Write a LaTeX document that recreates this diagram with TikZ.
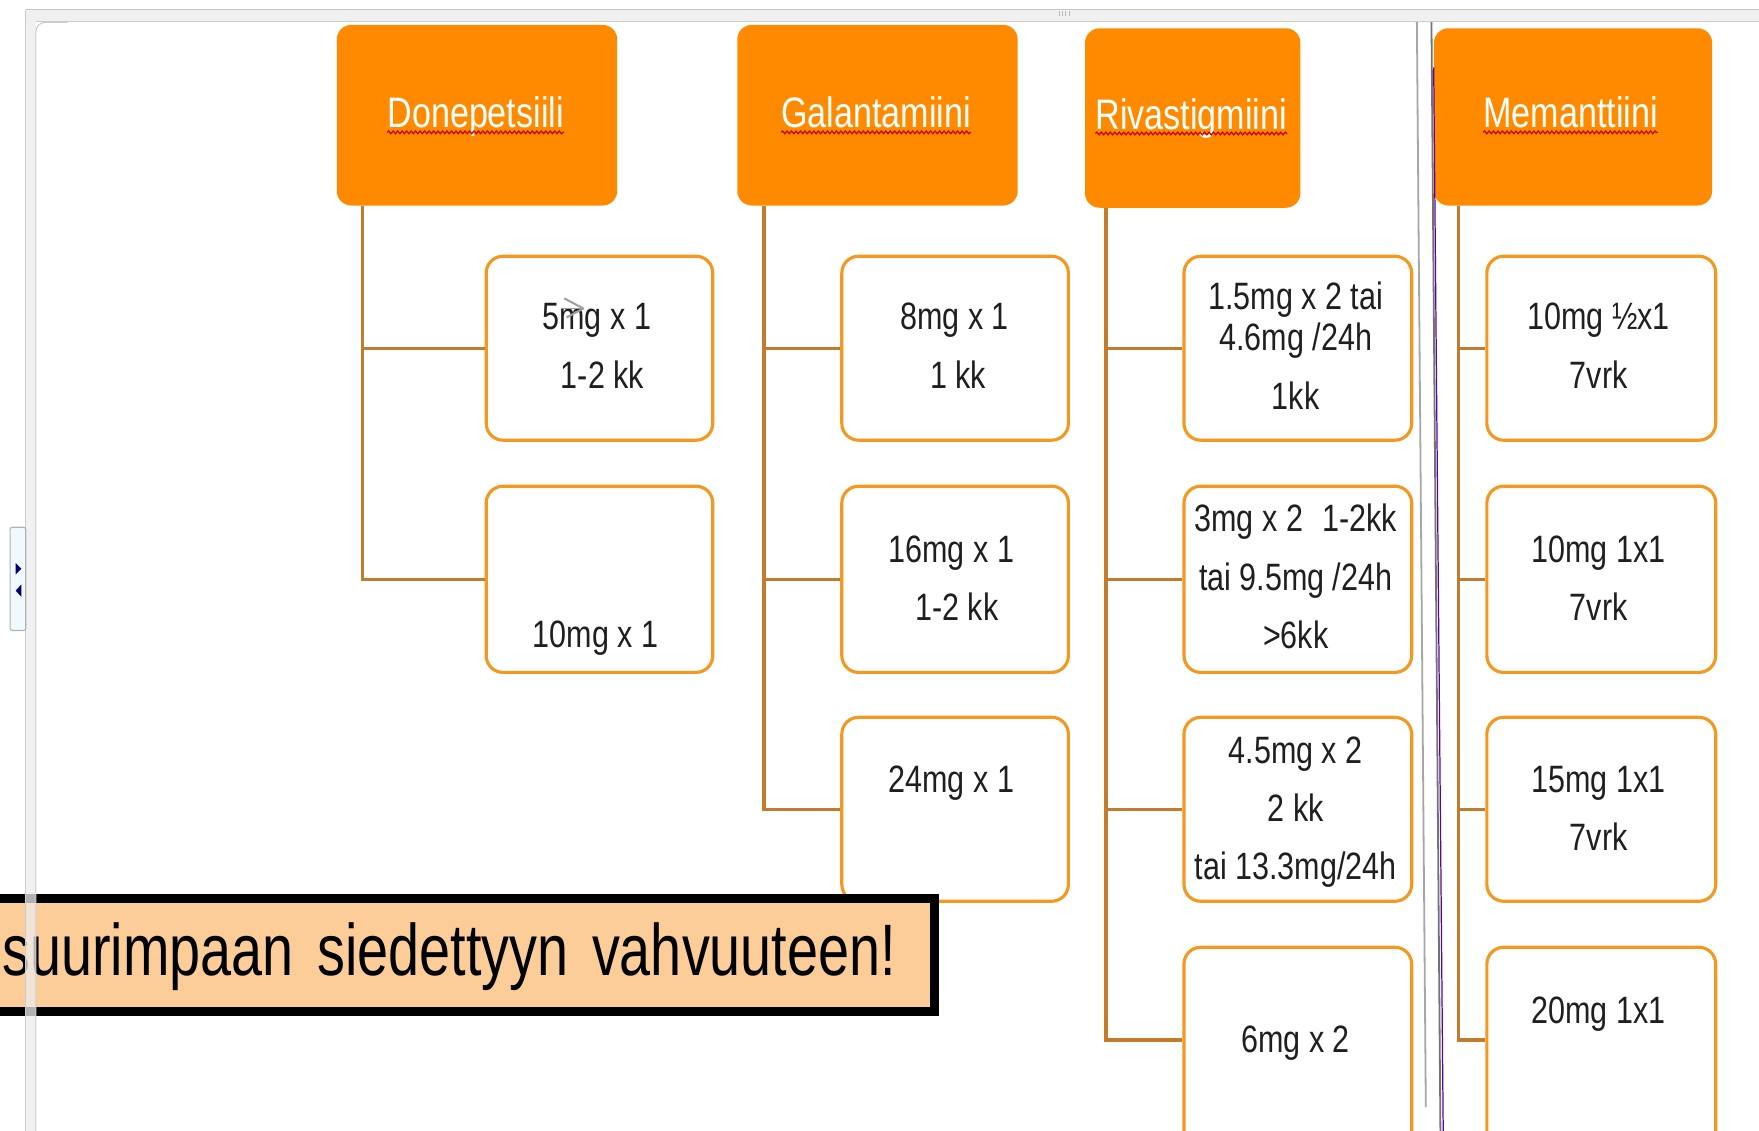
\documentclass[tikz,border=0pt]{standalone}
\usepackage{fontspec}
\setmainfont[FakeStretch=0.8]{Liberation Sans}
\newfontfamily\bannerfont[FakeStretch=0.765]{Liberation Sans}
\usetikzlibrary{decorations.pathmorphing}
\definecolor{hdrc}{RGB}{255,138,0}
\definecolor{bordc}{RGB}{246,152,32}
\definecolor{connc}{RGB}{196,124,44}
\definecolor{peach}{RGB}{252,205,153}
\begin{document}
\begin{tikzpicture}[x=1pt,y=-1pt,
  hdr/.style={rectangle,rounded corners=13pt,fill=hdrc,minimum width=250pt,minimum height=161pt,anchor=north west,inner sep=0pt},
  kid/.style={rectangle,rounded corners=15pt,draw=bordc,line width=2.8pt,fill=white,minimum width=202pt,minimum height=164pt,anchor=north west,inner sep=0pt},
  htxt/.style={text=white,font=\fontsize{38}{44}\selectfont,anchor=base,inner sep=0pt},
  ktxt/.style={text=black!88,font=\fontsize{34}{40}\selectfont,anchor=base,inner sep=0pt},
  conn/.style={draw=connc,line width=3pt},
  spell/.style={draw=red!80!black,line width=1.1pt,decorate,decoration={snake,amplitude=1.2pt,segment length=4pt}},
  banner/.style={rectangle,draw=black,line width=8pt,fill=peach,anchor=north west,minimum width=849pt,minimum height=101pt,inner sep=0pt},
  btxt/.style={text=black,font=\bannerfont\fontsize{65}{70}\selectfont,anchor=base west,inner sep=0pt}]
\useasboundingbox (0,0) rectangle (1568,1008);
\clip (0,0) rectangle (1568,1008);
\fill[white] (0,0) rectangle (1568,1008);

% headers
\node[hdr] (don) at (300,22) {};
\node[hdr] (gal) at (657,22) {};
\node[hdr,minimum width=192pt,minimum height=160pt] (riv) at (967,25) {};
\node[hdr,minimum width=248pt,minimum height=158pt] (mem) at (1278,25) {};
\node[htxt] (donT) at (424,114) {Donepetsiili};
\node[htxt] (galT) at (781,114) {Galantamiini};
\node[htxt] (rivT) at (1062,115) {Rivastigmiini};
\node[htxt] (memT) at (1400,114) {Memanttiini};
\foreach \t in {donT,galT,rivT,memT}
  \draw[spell] ([yshift=-4pt]\t.base west) -- ([yshift=-4pt]\t.base east);

% child boxes
\node[kid] (don1) at (432,227) {};
\node[kid,minimum height=166pt] (don2) at (432,432) {};
\node[kid] (gal1) at (749,227) {};
\node[kid,minimum height=166pt] (gal2) at (749,432) {};
\node[kid] (gal3) at (749,638) {};
\node[kid,minimum width=203pt] (riv1) at (1054,227) {};
\node[kid,minimum width=203pt,minimum height=166pt] (riv2) at (1054,432) {};
\node[kid,minimum width=203pt] (riv3) at (1054,638) {};
\node[kid,minimum width=203pt,minimum height=190pt] (riv4) at (1054,843) {};
\node[kid,minimum width=204pt] (mem1) at (1324,227) {};
\node[kid,minimum width=204pt,minimum height=166pt] (mem2) at (1324,432) {};
\node[kid,minimum width=204pt] (mem3) at (1324,638) {};
\node[kid,minimum width=204pt,minimum height=190pt] (mem4) at (1324,843) {};

% texts
\node[ktxt] at (532,294) {5mg x 1};
\node[ktxt] at (537,346) {1-2 kk};
\node[ktxt] at (531,577) {10mg x 1};
\node[ktxt] at (851,294) {8mg x 1};
\node[ktxt] at (854,346) {1 kk};
\node[ktxt] at (848,501) {16mg x 1};
\node[ktxt] at (853,553) {1-2 kk};
\node[ktxt] at (848,706) {24mg x 1};
\node[ktxt] at (1155,276) {1.5mg x 2 tai};
\node[ktxt] at (1155,312) {4.6mg /24h};
\node[ktxt] at (1155,365) {1kk};
\node[ktxt] at (1155,474) {3mg x 2\hspace{0.28em} 1-2kk};
\node[ktxt] at (1155,526) {tai 9.5mg /24h};
\node[ktxt] at (1155,578) {>6kk};
\node[ktxt] at (1155,681) {4.5mg x 2};
\node[ktxt] at (1155,732) {2 kk};
\node[ktxt] at (1155,784) {tai 13.3mg/24h};
\node[ktxt] at (1155,938) {6mg x 2};
\node[ktxt] at (1425,294) {10mg ½x1};
\node[ktxt] at (1425,346) {7vrk};
\node[ktxt] at (1425,501) {10mg 1x1};
\node[ktxt] at (1425,553) {7vrk};
\node[ktxt] at (1425,706) {15mg 1x1};
\node[ktxt] at (1425,758) {7vrk};
\node[ktxt] at (1425,912) {20mg 1x1};

% connectors
\coordinate (donV) at (323,0);
\coordinate (galV) at (681,0);
\coordinate (rivV) at (986,0);
\coordinate (memV) at (1300,0);
\foreach \k in {don1,don2} \draw[conn] (don.south -| donV) |- (\k.west);
\foreach \k in {gal1,gal2,gal3} \draw[conn] (gal.south -| galV) |- (\k.west);
\foreach \k in {riv1,riv2,riv3} \draw[conn] (riv.south -| rivV) |- (\k.west);
\draw[conn] (riv.south -| rivV) |- (riv4.west |- 0,927);
\foreach \k in {mem1,mem2,mem3} \draw[conn] (mem.south -| memV) |- (\k.west);
\draw[conn] (mem.south -| memV) |- (mem4.west |- 0,927);

% cursor
\draw[gray!75,line width=1.8pt,line join=round] (503,266) -- (520,275) -- (505,283);
\draw[gray!75,line width=1.6pt] (500,275) -- (518,275);

% banner
\node[banner] (ban) at (-20,797) {};
\node[btxt] (banT) at (2,870) {suurimpaan\hspace{21pt}siedettyyn\hspace{21pt}vahvuuteen!};

% divider lines
\draw[gray!70,line width=1.6pt] (1263,18) -- (1271,987);
\draw[black!55,line width=1.6pt] (1276,18) -- (1284,1008);
\draw[violet!75!blue,line width=1.1pt] (1278,60) -- (1286.5,1008);

% window frame
\fill[gray!12] (23,8) rectangle (1568,19);
\draw[gray!45,line width=1pt] (23,8.5) -- (1568,8.5);
\draw[gray!40,line width=1pt] (32,19) -- (1568,19);
\fill[gray!14,opacity=0.75] (23,19) rectangle (32,1008);
\draw[gray!40,line width=1pt] (23,8.5) -- (23,1008);
\draw[gray!40,line width=1pt,rounded corners=8pt] (32,1008) -- (32,20) -- (60,20);
\foreach \gx in {944,947,950,953} \draw[gray!55,line width=0.8pt] (\gx,10) -- (\gx,14);

% side tab
\draw[fill=cyan!6,draw=gray!60,line width=1pt,rounded corners=2pt] (9,470) rectangle (23,562);
\fill[blue!45!black] (14,502) -- (19,507) -- (14,512) -- cycle;
\fill[blue!45!black] (19,521) -- (14,526.5) -- (19,532) -- cycle;
\end{tikzpicture}
\end{document}
